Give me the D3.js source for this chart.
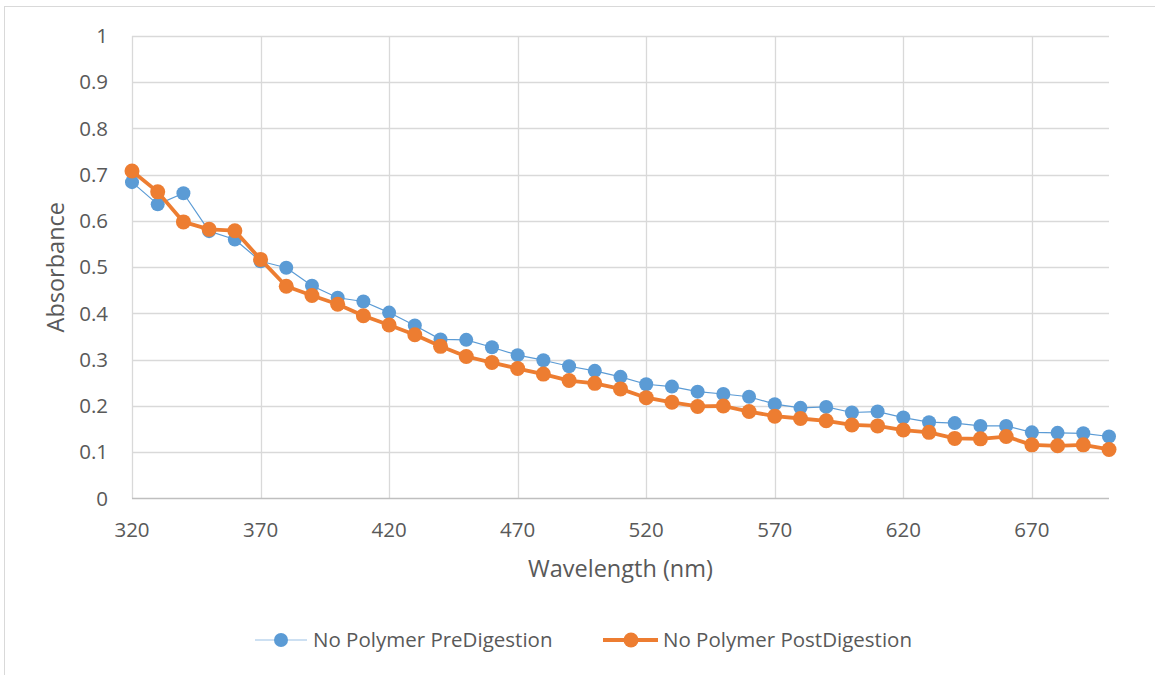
<!DOCTYPE html>
<html>
<head>
<meta charset="utf-8">
<script src="https://cdn.jsdelivr.net/npm/d3@7"></script>
<style>
  html, body { margin: 0; padding: 0; background: #fff; }
  svg text { font-family: "Open Sans", "Noto Sans", sans-serif; fill: #595959; }
</style>
</head>
<body>
<svg id="chart" width="1155" height="675"></svg>
<script>
const wavelengths = d3.range(320, 701, 10);
const preDigestion = [0.684, 0.636, 0.660, 0.578, 0.560, 0.513, 0.499, 0.460, 0.434, 0.426,
  0.402, 0.374, 0.344, 0.343, 0.327, 0.310, 0.299, 0.286, 0.276, 0.263,
  0.247, 0.242, 0.231, 0.226, 0.220, 0.204, 0.196, 0.198, 0.186, 0.188,
  0.175, 0.165, 0.163, 0.157, 0.157, 0.143, 0.142, 0.141, 0.134];
const postDigestion = [0.708, 0.663, 0.598, 0.582, 0.579, 0.517, 0.459, 0.439, 0.420, 0.395,
  0.375, 0.354, 0.329, 0.307, 0.294, 0.281, 0.269, 0.255, 0.249, 0.237,
  0.218, 0.208, 0.199, 0.200, 0.188, 0.178, 0.173, 0.168, 0.159, 0.157,
  0.148, 0.143, 0.130, 0.129, 0.134, 0.116, 0.114, 0.116, 0.106];
const xTicks = [320, 370, 420, 470, 520, 570, 620, 670];
const yTicks = [0, 0.1, 0.2, 0.3, 0.4, 0.5, 0.6, 0.7, 0.8, 0.9, 1];
const seriesNames = ["No Polymer PreDigestion", "No Polymer PostDigestion"];
const seriesColors = ["#5B9BD5", "#ED7D31"];

const svg = d3.select("#chart");

// outer chart border (top & left visible)
svg.append("rect").attr("x", 4.5).attr("y", 6.5).attr("width", 1200).attr("height", 700)
  .attr("fill", "none").attr("stroke", "#d9d9d9").attr("stroke-width", 1);

const x = d3.scaleLinear().domain([320, 700]).range([132, 1109]);
const y = d3.scaleLinear().domain([0, 1]).range([498.5, 36]);

// horizontal gridlines
svg.append("g").selectAll("line").data(yTicks.filter(d => d > 0)).join("line")
  .attr("x1", x(320)).attr("x2", x(700))
  .attr("y1", d => Math.round(y(d)) + 0.5).attr("y2", d => Math.round(y(d)) + 0.5)
  .attr("stroke", "#d9d9d9").attr("stroke-width", 1.3);
// vertical gridlines
svg.append("g").selectAll("line").data(xTicks).join("line")
  .attr("x1", d => Math.round(x(d)) + 0.5).attr("x2", d => Math.round(x(d)) + 0.5)
  .attr("y1", y(1)).attr("y2", y(0))
  .attr("stroke", "#d9d9d9").attr("stroke-width", 1.3);
// bottom axis line
svg.append("line").attr("x1", x(320)).attr("x2", x(700))
  .attr("y1", y(0)).attr("y2", y(0)).attr("stroke", "#bfbfbf").attr("stroke-width", 1.3);

// y tick labels
svg.append("g").selectAll("text").data(yTicks).join("text")
  .attr("x", 108).attr("y", d => y(d)).attr("dy", "0.35em")
  .attr("text-anchor", "end").style("font-size", "20.5px")
  .text(d => d3.format("")(d));
// x tick labels
svg.append("g").selectAll("text").data(xTicks).join("text")
  .attr("x", d => x(d)).attr("y", 537)
  .attr("text-anchor", "middle").style("font-size", "20.5px")
  .text(d => d);

// axis titles
svg.append("text").attr("x", x(510)).attr("y", 577).attr("text-anchor", "middle")
  .style("font-size", "23.5px").text("Wavelength (nm)");
svg.append("text").attr("transform", `translate(64, ${y(0.5)}) rotate(-90)`)
  .attr("text-anchor", "middle").style("font-size", "23.5px").text("Absorbance");

// series
const data = [preDigestion, postDigestion];
const widths = [1.2, 3.8];
const radii = [7, 7.5];
data.forEach((vals, i) => {
  const pts = wavelengths.map((w, j) => [w, vals[j]]);
  svg.append("path").datum(pts)
    .attr("fill", "none").attr("stroke", seriesColors[i]).attr("stroke-width", widths[i])
    .attr("stroke-linejoin", "round")
    .attr("d", d3.line().x(d => x(d[0])).y(d => y(d[1])));
  svg.append("g").selectAll("circle").data(pts).join("circle")
    .attr("cx", d => x(d[0])).attr("cy", d => y(d[1])).attr("r", radii[i])
    .attr("fill", seriesColors[i]);
});

// legend
const legendItems = [{x1: 255, x2: 307, cx: 281, tx: 313}, {x1: 603, x2: 658, cx: 631, tx: 663}];
legendItems.forEach((it, i) => {
  const ly = 640;
  svg.append("line").attr("x1", it.x1).attr("x2", it.x2).attr("y1", ly).attr("y2", ly)
    .attr("stroke", seriesColors[i]).attr("stroke-width", i === 0 ? 1.2 : 3.8)
    .attr("opacity", i === 0 ? 0.6 : 1);
  svg.append("circle").attr("cx", it.cx).attr("cy", ly).attr("r", radii[i]).attr("fill", seriesColors[i]);
  svg.append("text").attr("x", it.tx).attr("y", ly).attr("dy", "0.35em")
    .style("font-size", "20.5px").text(seriesNames[i]);
});
</script>
</body>
</html>
